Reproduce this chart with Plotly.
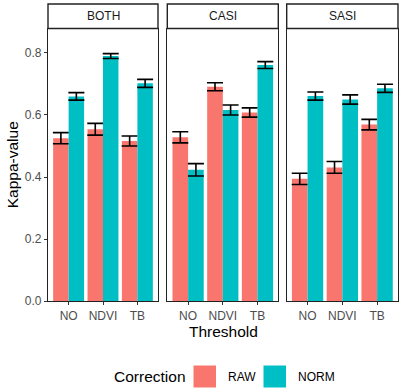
import plotly.graph_objects as go

thresholds = ["NO", "NDVI", "TB"]
sensors = ["BOTH", "CASI", "SASI"]
corrections = ["RAW", "NORM"]

raw_vals = {"BOTH": [0.525, 0.554, 0.516], "CASI": [0.528, 0.691, 0.608], "SASI": [0.394, 0.431, 0.569]}
raw_err = {"BOTH": [0.018, 0.019, 0.016], "CASI": [0.018, 0.013, 0.015], "SASI": [0.018, 0.019, 0.017]}
norm_vals = {"BOTH": [0.660, 0.790, 0.702], "CASI": [0.423, 0.616, 0.761], "SASI": [0.661, 0.650, 0.686]}
norm_err = {"BOTH": [0.012, 0.008, 0.013], "CASI": [0.020, 0.016, 0.011], "SASI": [0.013, 0.015, 0.013]}

y_ticks = [0.0, 0.2, 0.4, 0.6, 0.8]
colors = {"RAW": "#F8766D", "NORM": "#00BFC4"}

FONT = "Liberation Sans, Arial, sans-serif"
W, H = 400, 391
ML, MR, MT, MB = 48, 2, 4, 90
PW = W - ML - MR
PH = H - MT - MB
panel_bottom_px = 301
panel_top_px = 28.5

def px_x(p):
    return (p - ML) / PW

def px_y(p):
    return (panel_bottom_px - p) / PH

ydom_top = px_y(panel_top_px)
domains = [[0.0, px_x(158)], [px_x(167.3), px_x(278.3)], [px_x(286.7), 1.0]]

fig = go.Figure()
for i, s in enumerate(sensors):
    xa = "x" if i == 0 else f"x{i+1}"
    ya = "y" if i == 0 else f"y{i+1}"
    for c, vals, errs in (("RAW", raw_vals, raw_err), ("NORM", norm_vals, norm_err)):
        fig.add_trace(go.Bar(
            x=thresholds, y=vals[s], name=c, xaxis=xa, yaxis=ya,
            marker=dict(color=colors[c], line=dict(width=0)),
            offsetgroup=c, showlegend=False,
            error_y=dict(type="data", array=errs[s], color="black", thickness=1.6, width=8),
        ))

layout = dict(
    width=W, height=H, margin=dict(l=ML, r=MR, t=MT, b=MB),
    plot_bgcolor="white", paper_bgcolor="white",
    barmode="group", bargap=0.1, bargroupgap=0,
    font=dict(family=FONT, color="black"),
)
axis_line = dict(showline=True, linecolor="#222222", linewidth=1.4, mirror=True, showgrid=False, zeroline=False)
for i in range(3):
    k = "" if i == 0 else str(i + 1)
    layout[f"xaxis{k}"] = dict(
        domain=domains[i], anchor=f"y{k}", type="category",
        categoryorder="array", categoryarray=thresholds,
        range=[-0.6, 2.6], ticks="outside", ticklen=3, tickcolor="#333333",
        tickfont=dict(size=12, color="#4D4D4D", family=FONT), **axis_line,
    )
    ya = dict(
        domain=[0, ydom_top], anchor=f"x{k}", range=[0, 0.879],
        tickvals=y_ticks, **axis_line,
    )
    if i == 0:
        ya.update(ticks="outside", ticklen=3, tickcolor="#333333",
                  ticktext=[f"{v:.1f}" for v in y_ticks],
                  tickfont=dict(size=12, color="#4D4D4D", family=FONT))
    else:
        ya.update(showticklabels=False, ticks="")
    layout[f"yaxis{k}"] = ya
fig.update_layout(**layout)

shapes = []
annotations = []
for i, s in enumerate(sensors):
    shapes.append(dict(type="rect", xref="paper", yref="paper",
                       x0=domains[i][0], x1=domains[i][1], y0=ydom_top, y1=1.0,
                       line=dict(color="#222222", width=1.4), fillcolor="white"))
    annotations.append(dict(text=s, xref="paper", yref="paper",
                            x=(domains[i][0] + domains[i][1]) / 2, y=(ydom_top + 1.0) / 2,
                            showarrow=False, xanchor="center", yanchor="middle",
                            font=dict(size=12, color="#1A1A1A", family=FONT)))

annotations.append(dict(text="Threshold", xref="paper", yref="paper", x=0.5, y=px_y(331.5),
                        showarrow=False, xanchor="center", yanchor="middle",
                        font=dict(size=15.5, color="black", family=FONT)))
annotations.append(dict(text="Kappa-value", xref="paper", yref="paper", x=px_x(12.5),
                        y=px_y((panel_top_px + panel_bottom_px) / 2), textangle=-90,
                        showarrow=False, xanchor="center", yanchor="middle",
                        font=dict(size=15.5, color="black", family=FONT)))

# legend (manual, ggplot-style keys)
leg_cy = 376.5
annotations.append(dict(text="Correction", xref="paper", yref="paper", x=px_x(111.5), y=px_y(leg_cy),
                        showarrow=False, xanchor="left", yanchor="middle",
                        font=dict(size=15.5, color="black", family=FONT)))
for c, kx, tx in (("RAW", 193.5, 226), ("NORM", 263.5, 296)):
    shapes.append(dict(type="rect", xref="paper", yref="paper",
                       x0=px_x(kx), x1=px_x(kx + 22.5), y0=px_y(leg_cy + 11), y1=px_y(leg_cy - 11),
                       line=dict(width=0), fillcolor=colors[c]))
    annotations.append(dict(text=c, xref="paper", yref="paper", x=px_x(tx), y=px_y(leg_cy),
                            showarrow=False, xanchor="left", yanchor="middle",
                            font=dict(size=12, color="black", family=FONT)))

fig.update_layout(shapes=shapes, annotations=annotations)
fig.write_html("out.html", config={"displayModeBar": False},
               post_script="document.body.style.margin='0';document.body.style.overflow='hidden';")
